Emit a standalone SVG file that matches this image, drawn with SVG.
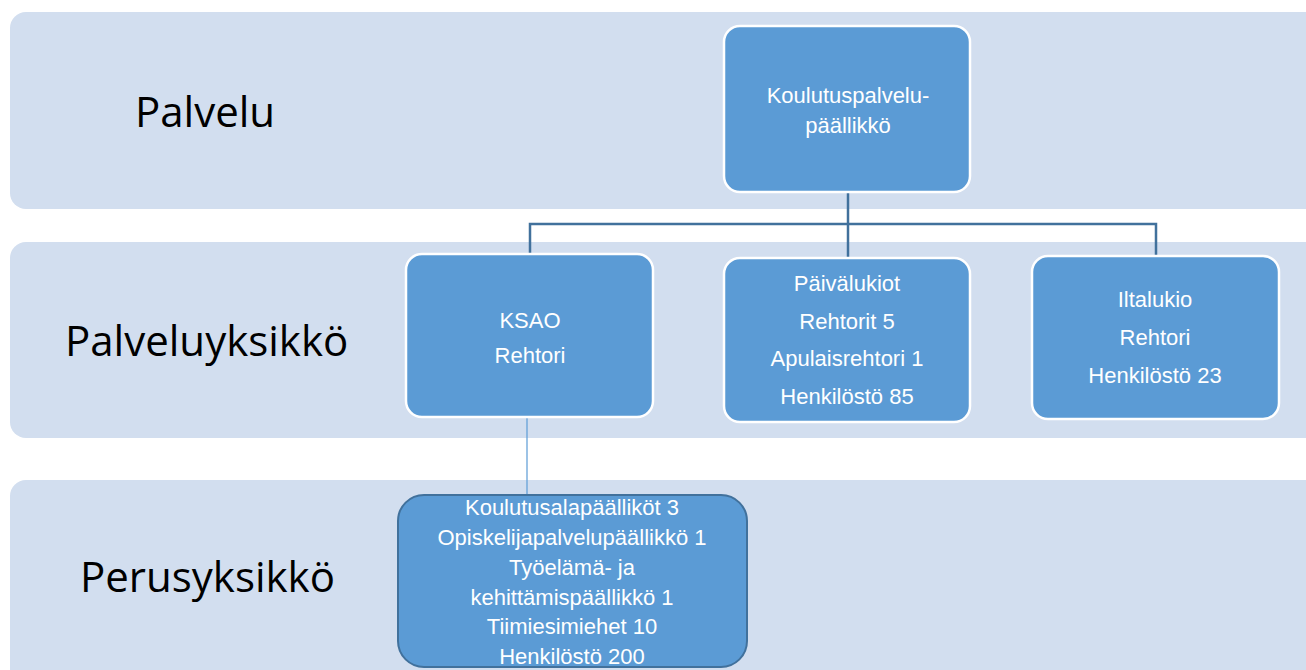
<svg xmlns="http://www.w3.org/2000/svg" width="1306" height="670" viewBox="0 0 1306 670">
  <style>
    .band { fill: #D2DEEF; }
    .level { font-family: "Open Sans", "DejaVu Sans", sans-serif; font-size: 42px; fill: #000; }
    .box { fill: #5B9BD5; stroke: #FFFFFF; stroke-width: 2.5; }
    .box-dark { fill: #5B9BD5; stroke: #41719C; stroke-width: 2; }
    .label { font-family: "Liberation Sans", Arial, sans-serif; font-size: 22px; fill: #FFFFFF; text-anchor: middle; }
    .link { fill: none; stroke: #41719C; stroke-width: 2.5; }
    .link-thin { fill: none; stroke: #5B9BD5; stroke-width: 1.2; }
  </style>
  <rect width="1306" height="670" fill="#FFFFFF"/>

  <!-- level bands -->
  <g id="bands">
    <rect class="band" x="10" y="12" width="1320" height="197" rx="16"/>
    <rect class="band" x="10" y="242" width="1320" height="196" rx="16"/>
    <rect class="band" x="10" y="480" width="1320" height="210" rx="16"/>
    <text class="level" x="135" y="127">Palvelu</text>
    <text class="level" x="65" y="356">Palveluyksikkö</text>
    <text class="level" x="80" y="592">Perusyksikkö</text>
  </g>

  <!-- connectors -->
  <g id="connectors">
    <path class="link" d="M848 192 V258"/>
    <path class="link" d="M530 254 V224 H1156 V256"/>
    <path class="link-thin" d="M527 417 V495"/>
  </g>

  <g id="node-koulutuspalvelupaallikko">
    <rect class="box" x="724" y="26" width="246" height="166" rx="16"/>
    <text class="label" x="848" y="103">Koulutuspalvelu-</text>
    <text class="label" x="848" y="133">päällikkö</text>
  </g>

  <g id="node-ksao">
    <rect class="box" x="406" y="254" width="247" height="163" rx="16"/>
    <text class="label" x="530" y="328">KSAO</text>
    <text class="label" x="530" y="363">Rehtori</text>
  </g>

  <g id="node-paivalukiot">
    <rect class="box" x="724" y="258" width="246" height="164" rx="16"/>
    <text class="label" x="847" y="291">Päivälukiot</text>
    <text class="label" x="847" y="329">Rehtorit 5</text>
    <text class="label" x="847" y="366">Apulaisrehtori 1</text>
    <text class="label" x="847" y="404">Henkilöstö 85</text>
  </g>

  <g id="node-iltalukio">
    <rect class="box" x="1032" y="256" width="247" height="163" rx="16"/>
    <text class="label" x="1155" y="307">Iltalukio</text>
    <text class="label" x="1155" y="345">Rehtori</text>
    <text class="label" x="1155" y="383">Henkilöstö 23</text>
  </g>

  <g id="node-perusyksikko">
    <rect class="box-dark" x="398" y="495" width="349" height="172" rx="26"/>
    <text class="label" x="572" y="515">Koulutusalapäälliköt 3</text>
    <text class="label" x="572" y="545">Opiskelijapalvelupäällikkö 1</text>
    <text class="label" x="572" y="575">Työelämä- ja</text>
    <text class="label" x="572" y="605">kehittämispäällikkö 1</text>
    <text class="label" x="572" y="634">Tiimiesimiehet 10</text>
    <text class="label" x="572" y="664">Henkilöstö 200</text>
  </g>
</svg>
